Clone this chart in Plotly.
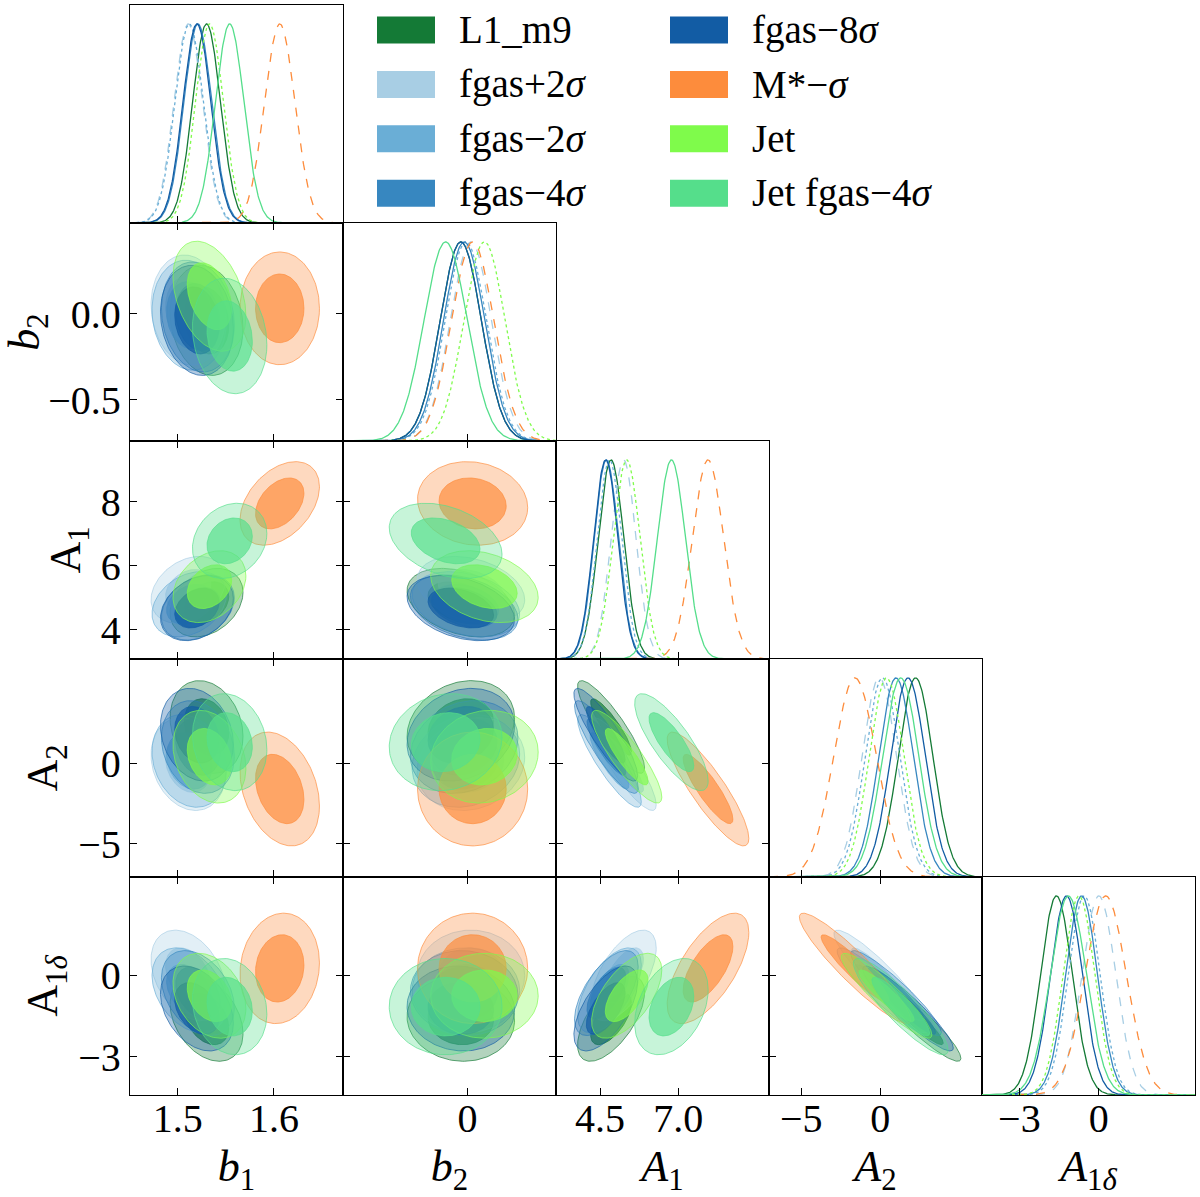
import numpy as np
import plotly.graph_objects as go

# ---------------- data ----------------
series = ["L1_m9", "fgas+2σ", "fgas−2σ", "fgas−4σ", "fgas−8σ", "M*−σ", "Jet", "Jet fgas−4σ"]
legend_labels = ["L1_m9", "fgas+2<i>σ</i>", "fgas−2<i>σ</i>", "fgas−4<i>σ</i>",
                 "fgas−8<i>σ</i>", "M*−<i>σ</i>", "Jet", "Jet fgas−4<i>σ</i>"]
colors = ["#147a36", "#a8cee4", "#6aaed6", "#3787c0", "#125ca4", "#fd8c3c", "#7ffb4b", "#55de8b"]
line_dash = ["solid", "dash", "dot", "solid", "solid", "dash", "dot", "solid"]

params = ["b1", "b2", "A1", "A2", "A1d"]
param_titles_x = ["<i>b</i><sub>1</sub>", "<i>b</i><sub>2</sub>", "<i>A</i><sub>1</sub>",
                  "<i>A</i><sub>2</sub>", "<i>A</i><sub>1<i>δ</i></sub>"]
param_titles_y = ["<i>b</i><sub>1</sub>", "<i>b</i><sub>2</sub>", "A<sub>1</sub>",
                  "A<sub>2</sub>", "A<sub>1<i>δ</i></sub>"]

# posterior means
b1_mean = [1.530, 1.511, 1.512, 1.521, 1.520, 1.606, 1.533, 1.554]
b2_mean = [-0.04, 0.02, -0.01, -0.02, -0.04, 0.03, 0.10, -0.13]
A1_mean = [4.85, 5.25, 4.80, 4.70, 4.68, 7.95, 5.35, 6.78]
A2_mean = [2.24, -0.06, 0.14, 1.00, 1.76, -1.60, 0.40, 1.30]
A1d_mean = [-1.60, 0.00, -0.55, -0.65, -1.22, 0.26, -0.75, -1.15]

# posterior standard deviations
b1_sd = [0.0145, 0.0148, 0.0148, 0.0145, 0.0145, 0.0158, 0.0145, 0.0148]
b2_sd = [0.122, 0.122, 0.122, 0.122, 0.122, 0.125, 0.122, 0.128]
A1_sd = [0.41, 0.40, 0.39, 0.39, 0.39, 0.50, 0.43, 0.45]
A2_sd = [1.10, 1.10, 1.10, 1.10, 1.10, 1.35, 1.10, 1.15]
A1d_sd = [0.60, 0.64, 0.60, 0.60, 0.60, 0.78, 0.60, 0.68]

# correlation coefficients
r_b1_b2 = [-0.15, -0.10, -0.10, -0.15, -0.15, 0.00, -0.35, -0.15]
r_b1_A1 = [0.30, 0.30, 0.30, 0.30, 0.30, 0.40, 0.30, 0.20]
r_b1_A2 = [-0.20, -0.20, -0.20, -0.20, -0.20, -0.30, -0.25, -0.15]
r_b1_A1d = [-0.35, -0.35, -0.35, -0.35, -0.35, 0.10, -0.30, -0.15]
r_b2_A1 = [-0.35, -0.30, -0.30, -0.35, -0.35, -0.10, -0.30, -0.35]
r_b2_A2 = [0.20, 0.15, 0.15, 0.20, 0.20, 0.00, 0.10, 0.10]
r_b2_A1d = [-0.05, 0.00, 0.00, -0.05, -0.05, 0.00, 0.00, 0.00]
r_A1_A2 = [-0.88, -0.88, -0.88, -0.88, -0.88, -0.87, -0.87, -0.80]
r_A1_A1d = [0.62, 0.60, 0.60, 0.62, 0.62, 0.65, 0.60, 0.35]
r_A2_A1d = [-0.93, -0.92, -0.92, -0.93, -0.93, -0.93, -0.92, -0.90]

# axis ranges and ticks
ranges = {"b1": [1.4505, 1.6717], "b2": [-0.738, 0.524], "A1": [3.09, 9.90],
          "A2": [-7.05, 6.45], "A1d": [-4.41, 3.63]}
xtick_vals = {"b1": [1.5, 1.6], "b2": [0.0], "A1": [4.5, 7.0], "A2": [-5, 0], "A1d": [-3, 0]}
xtick_text = {"b1": ["1.5", "1.6"], "b2": ["0"], "A1": ["4.5", "7.0"], "A2": ["−5", "0"], "A1d": ["−3", "0"]}
ytick_vals = {"b1": [1.5, 1.6], "b2": [-0.5, 0.0], "A1": [4, 6, 8], "A2": [-5, 0], "A1d": [-3, 0]}
ytick_text = {"b1": ["1.5", "1.6"], "b2": ["−0.5", "0.0"], "A1": ["4", "6", "8"], "A2": ["−5", "0"], "A1d": ["−3", "0"]}

means = {"b1": b1_mean, "b2": b2_mean, "A1": A1_mean, "A2": A2_mean, "A1d": A1d_mean}
sds = {"b1": b1_sd, "b2": b2_sd, "A1": A1_sd, "A2": A2_sd, "A1d": A1d_sd}
corr = {("b1", "b2"): r_b1_b2, ("b1", "A1"): r_b1_A1, ("b1", "A2"): r_b1_A2, ("b1", "A1d"): r_b1_A1d,
        ("b2", "A1"): r_b2_A1, ("b2", "A2"): r_b2_A2, ("b2", "A1d"): r_b2_A1d,
        ("A1", "A2"): r_A1_A2, ("A1", "A1d"): r_A1_A1d, ("A2", "A1d"): r_A2_A1d}

# ---------------- styling ----------------
FONT = "Liberation Serif"
TICK_FS = 40
TITLE_FS = 44
SMOOTH = 1.05  # 2D contours slightly broadened relative to 1D (kernel smoothing look)
R68 = np.sqrt(-2 * np.log(1 - 0.6827)) * SMOOTH
R95 = np.sqrt(-2 * np.log(1 - 0.9545)) * SMOOTH
LW = 1.3


def rgba(hexc, a):
    h = hexc.lstrip("#")
    return "rgba(%d,%d,%d,%.3f)" % (int(h[0:2], 16), int(h[2:4], 16), int(h[4:6], 16), a)


def ellipse(mx, my, sx, sy, rho, r):
    t = np.linspace(0, 2 * np.pi, 160)
    cov = np.array([[sx * sx, rho * sx * sy], [rho * sx * sy, sy * sy]])
    L = np.linalg.cholesky(cov)
    pts = L @ np.vstack([np.cos(t), np.sin(t)]) * r
    return pts[0] + mx, pts[1] + my


n = len(params)
fig = go.Figure()
layout = {}
k = 0
for i in range(n):          # row
    for j in range(i + 1):  # column
        k += 1
        xa = "x" if k == 1 else "x%d" % k
        ya = "y" if k == 1 else "y%d" % k
        px, py = params[j], params[i]
        diag = (i == j)
        if diag:
            xs = np.linspace(ranges[px][0], ranges[px][1], 400)
            for s in range(len(series)):
                m, sd = means[px][s], sds[px][s]
                ys = np.exp(-0.5 * ((xs - m) / sd) ** 2)
                fig.add_trace(go.Scatter(x=xs, y=ys, mode="lines", xaxis=xa, yaxis=ya,
                                         line=dict(color=colors[s], width=1.3, dash=line_dash[s]),
                                         showlegend=False, hoverinfo="skip"))
        else:
            for s in range(len(series)):
                mx, my = means[px][s], means[py][s]
                sx, sy = sds[px][s], sds[py][s]
                rho = corr[(px, py)][s]
                for r, a in ((R95, 0.33), (R68, 0.68)):
                    ex, ey = ellipse(mx, my, sx, sy, rho, r)
                    fig.add_trace(go.Scatter(x=ex, y=ey, mode="lines", fill="toself",
                                             xaxis=xa, yaxis=ya,
                                             fillcolor=rgba(colors[s], a),
                                             line=dict(color=rgba(colors[s], 0.75), width=0.9),
                                             showlegend=False, hoverinfo="skip"))
        xkey = "xaxis" if k == 1 else "xaxis%d" % k
        ykey = "yaxis" if k == 1 else "yaxis%d" % k
        common = dict(showline=True, linecolor="black", linewidth=LW, showgrid=False,
                      zeroline=False, ticks="inside", ticklen=7, tickwidth=LW, tickcolor="black",
                      automargin=False,
                      tickfont=dict(family=FONT, size=TICK_FS, color="black"))
        xd = dict(common, domain=[j / n, (j + 1) / n], anchor=ya, range=ranges[px],
                  tickvals=xtick_vals[px], ticktext=xtick_text[px],
                  showticklabels=(i == n - 1), mirror=(True if diag else "ticks"))
        if i == n - 1:
            xd["ticklabelstandoff"] = -12
            xd["title"] = dict(text=param_titles_x[j], font=dict(family=FONT, size=TITLE_FS, color="black"),
                               standoff=22)
        if diag:
            yd = dict(domain=[1 - (i + 1) / n, 1 - i / n], anchor=xa, range=[0, 1.095],
                      showline=True, linecolor="black", linewidth=LW, mirror=True, automargin=False,
                      showgrid=False, zeroline=False, ticks="", showticklabels=False)
        else:
            yd = dict(common, domain=[1 - (i + 1) / n, 1 - i / n], anchor=xa, range=ranges[py],
                      tickvals=ytick_vals[py], ticktext=ytick_text[py],
                      showticklabels=(j == 0), mirror="ticks")
            if j == 0:
                yd["title"] = dict(text=param_titles_y[i], font=dict(family=FONT, size=TITLE_FS, color="black"),
                                   standoff=6)
        layout[xkey] = xd
        layout[ykey] = yd

# ---------------- legend (drawn as swatches + text) ----------------
L, R, T, B, W, H = 130, 5, 5, 102, 1200, 1197
pw, ph = W - L - R, H - T - B


def xp(p):
    return (p - L) / pw


def yp(p):
    return (H - B - p) / ph


shapes, annos = [], []
for s in range(len(series)):
    c, r = s // 4, s % 4
    sx0 = 377 + c * 293
    cy = 30 + r * 54.4
    shapes.append(dict(type="rect", xref="paper", yref="paper",
                       x0=xp(sx0), x1=xp(sx0 + 58), y0=yp(cy + 13.5), y1=yp(cy - 13.5),
                       fillcolor=colors[s], line=dict(width=0)))
    annos.append(dict(x=xp(sx0 + 80), y=yp(cy), xref="paper", yref="paper",
                      text=legend_labels[s], showarrow=False, xanchor="left", yanchor="middle",
                      font=dict(family=FONT, size=39, color="black")))

fig.update_layout(width=W, height=H, margin=dict(l=L, r=R, t=T, b=B, autoexpand=False),
                  paper_bgcolor="white", plot_bgcolor="white", showlegend=False,
                  shapes=shapes, annotations=annos, **layout)
fig.write_html("out.html", config={"displayModeBar": False},
               post_script="document.body.style.margin='0px';")
